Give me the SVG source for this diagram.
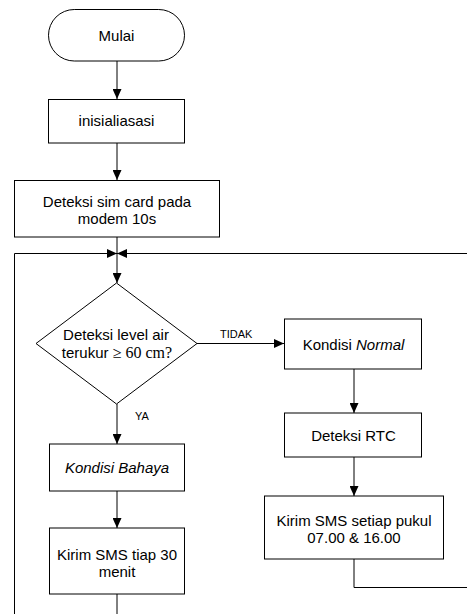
<svg xmlns="http://www.w3.org/2000/svg" width="467" height="614" viewBox="0 0 467 614">
<defs>
<marker id="ah" viewBox="0 0 10 9" refX="10" refY="4.5" markerWidth="10" markerHeight="9" markerUnits="userSpaceOnUse" orient="auto">
<path d="M0,0 L10,4.5 L0,9 Z" fill="#000"/>
</marker>
</defs>
<style>
.n{fill:#fff;stroke:#000;stroke-width:1}
.t{font-family:"Liberation Sans",Arial,sans-serif;font-size:15px;text-anchor:middle;fill:#000}
.s{font-family:"Liberation Sans",Arial,sans-serif;font-size:11px;fill:#000}
.c{fill:none;stroke:#000;stroke-width:1}
.a{marker-end:url(#ah)}
</style>
<rect width="467" height="614" fill="#fff"/>
<g id="connectors">
<line class="c a" x1="117" y1="61" x2="117" y2="99"/>
<line class="c a" x1="117" y1="143" x2="117" y2="180"/>
<line class="c" x1="117" y1="237" x2="117" y2="253"/>
<line class="c" x1="117" y1="594" x2="117" y2="614"/>
<polyline class="c a" points="14.5,614 14.5,253.5 117,253.5"/>
<polyline class="c a" points="354,559 354,587.5 470,587.5 470,253.5 117,253.5"/>
<line class="c a" x1="117" y1="253.5" x2="117" y2="283"/>
<line class="c a" x1="197" y1="343.5" x2="284" y2="343.5"/>
<text class="s" x="220" y="337.5">TIDAK</text>
<line class="c a" x1="117" y1="404" x2="117" y2="444"/>
<text class="s" x="135" y="420">YA</text>
<line class="c a" x1="354" y1="369" x2="354" y2="413"/>
<line class="c a" x1="354" y1="457" x2="354" y2="496"/>
<line class="c a" x1="117" y1="491" x2="117" y2="528"/>
</g>
<g id="mulai">
<rect class="n" x="48.5" y="9.5" width="136" height="51.5" rx="25.75"/>
<text class="t" x="116.5" y="40.5">Mulai</text>
</g>
<g id="inisialisasi">
<rect class="n" x="48.5" y="99.5" width="136" height="43.5"/>
<text class="t" x="116.5" y="126">inisialiasasi</text>
</g>
<g id="deteksi-sim">
<rect class="n" x="14.5" y="180.5" width="205" height="56.5"/>
<text class="t" x="117" y="207">Deteksi sim card pada</text>
<text class="t" x="117" y="223.5">modem 10s</text>
</g>
<g id="keputusan">
<polygon class="n" points="116.5,283 197,343.5 116.5,404 36,343.5"/>
<text class="t" x="116" y="339.5">Deteksi level air</text>
<text class="t" x="117" y="358">terukur <tspan font-family="'Liberation Serif','Times New Roman',serif" font-size="16">≥ 60 cm?</tspan></text>
</g>
<g id="kondisi-normal">
<rect class="n" x="284.5" y="319" width="137" height="50"/>
<text class="t" x="353.5" y="349.5">Kondisi <tspan font-style="italic">Normal</tspan></text>
</g>
<g id="deteksi-rtc">
<rect class="n" x="284.5" y="413" width="137" height="44"/>
<text class="t" x="353.5" y="440.5">Deteksi RTC</text>
</g>
<g id="kirim-setiap">
<rect class="n" x="264.5" y="496" width="179" height="63"/>
<text class="t" x="354" y="525.5">Kirim SMS setiap pukul</text>
<text class="t" x="354" y="542.5">07.00 &amp; 16.00</text>
</g>
<g id="kondisi-bahaya">
<rect class="n" x="49.5" y="444" width="135" height="47"/>
<text class="t" x="117" y="473" font-style="italic">Kondisi Bahaya</text>
</g>
<g id="kirim-30">
<rect class="n" x="49.5" y="528" width="135" height="66"/>
<text class="t" x="117" y="559.5">Kirim SMS tiap 30</text>
<text class="t" x="117" y="577">menit</text>
</g>
</svg>
